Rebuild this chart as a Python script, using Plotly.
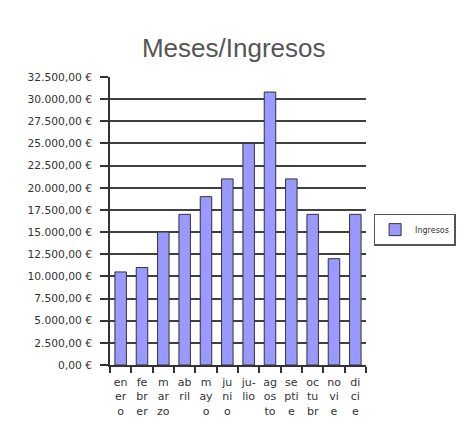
import plotly.graph_objects as go

meses = ["en<br>er<br>o", "fe<br>br<br>er", "m<br>ar<br>zo", "ab<br>ril", "m<br>ay<br>o",
         "ju<br>ni<br>o", "ju-<br>lio", "ag<br>os<br>to", "se<br>pti<br>e", "oc<br>tu<br>br",
         "no<br>vi<br>e", "di<br>ci<br>e"]
ingresos = [10500, 11000, 15000, 17000, 19000, 21000, 25000, 30800, 21000, 17000, 12000, 17000]
serie = "Ingresos"

fig = go.Figure()
fig.add_trace(go.Bar(
    x=meses, y=ingresos, name=serie,
    marker=dict(color="#9999FF", line=dict(color="#333333", width=1)),
    showlegend=True,
))

axis_font = dict(family="DejaVu Sans", size=11, color="#333333")

fig.update_layout(
    width=461, height=432,
    margin=dict(l=110, r=95, t=77, b=67, autoexpand=False),
    paper_bgcolor="white", plot_bgcolor="white",
    separators=",.",
    bargap=0.46,
    title=dict(text="Meses/Ingresos", x=0.507, xanchor="center", y=0.888, yanchor="middle",
               font=dict(family="Liberation Sans", size=26, color="#555555")),
    xaxis=dict(
        type="category", showline=True, linecolor="#333333", linewidth=1.5,
        ticks="outside", tickson="boundaries", ticklen=6, tickcolor="#333333", tickwidth=1.5,
        tickfont=axis_font, showgrid=False, tickangle=0, automargin=False,
        ticklabelstandoff=6,
    ),
    yaxis=dict(
        range=[0, 32500], dtick=2500, tick0=0,
        tickformat=",.2f", ticksuffix=" €",
        showline=True, linecolor="#333333", linewidth=1.5,
        ticks="outside", ticklen=8, tickcolor="#333333", tickwidth=1.5,
        showgrid=True, gridcolor="#404040", gridwidth=1.5,
        tickfont=dict(family="DejaVu Sans", size=10.7, color="#333333"),
        zeroline=False, automargin=False, ticklabelstandoff=6,
    ),
    legend=dict(
        x=1.35, y=0.47, xanchor="right", yanchor="middle",
        bordercolor="#555555", borderwidth=1.5,
        font=dict(family="DejaVu Sans", size=8, color="#333333"),
        itemwidth=30, tracegroupgap=0,
    ),
)

fig.write_html("out.html", config={"displayModeBar": False},
               post_script="document.body.style.margin='0';")
